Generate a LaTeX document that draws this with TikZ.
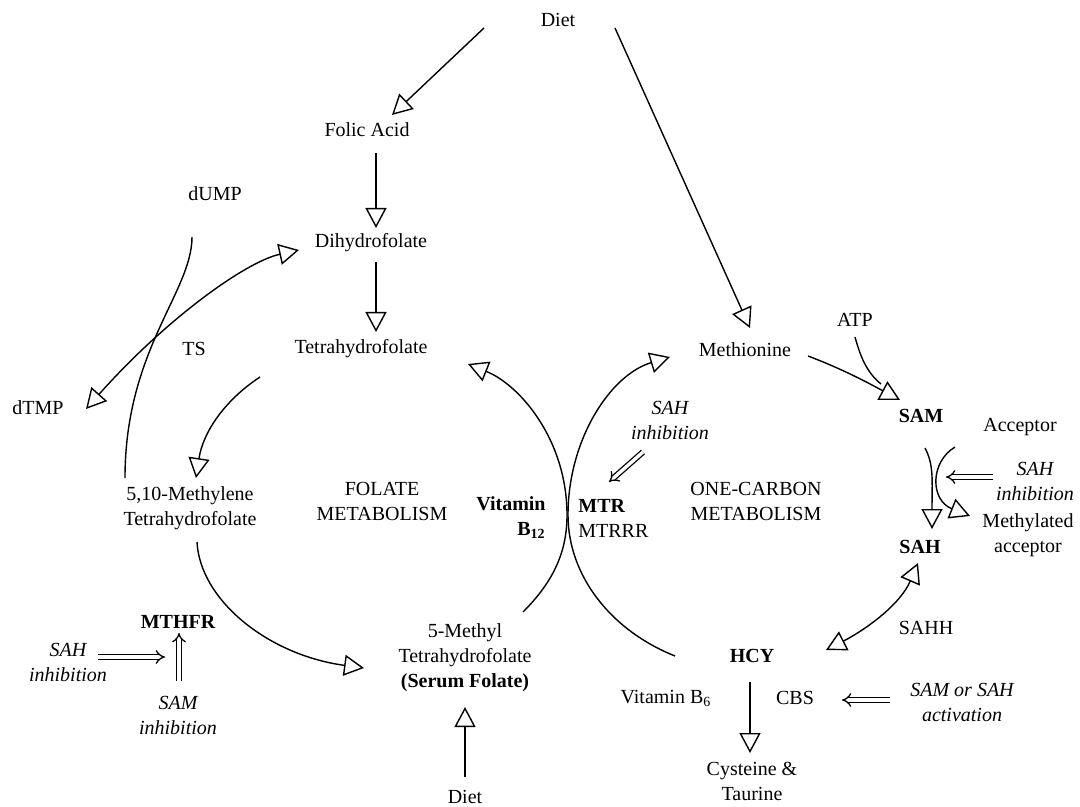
\documentclass[tikz,border=0pt]{standalone}
\usepackage{fontspec}
\setmainfont{Liberation Serif}
\usetikzlibrary{arrows.meta}
\begin{document}
\begin{tikzpicture}[x=0.5pt,y=-0.5pt,
  lbl/.style={font=\fontsize{10}{12.5}\selectfont, align=center, inner sep=0pt},
  bf/.style={lbl, font=\fontsize{10}{12.5}\selectfont\bfseries},
  it/.style={lbl, font=\fontsize{10}{12.5}\selectfont\itshape},
  tip/.tip={Triangle[open, length=10pt, width=10.5pt, line width=0.7pt]},
  ln/.style={line width=0.7pt},
  arr/.style={ln, -tip},
  arrb/.style={ln, tip-tip},
  dbl/.style={double, double distance=1.7pt, line width=0.65pt, -{Implies}},
]
\useasboundingbox (0,0) rectangle (1080,807);

% labels
\node[lbl] (diet1) at (558,20) {Diet};
\node[lbl] (folic) at (367,130) {Folic Acid};
\node[lbl] (dump) at (215,194) {dUMP};
\node[lbl] (dhf) at (371,243) {Dihydrofolate};
\node[lbl] (thf) at (361,349) {Tetrahydrofolate};
\node[lbl] (ts) at (194,349) {TS};
\node[lbl] (dtmp) at (38,408) {dTMP};
\node[lbl] (met) at (745,350) {Methionine};
\node[lbl] (atp) at (855,320) {ATP};
\node[bf] (sam) at (921,416) {SAM};
\node[lbl] (acc) at (1020,427) {Acceptor};
\node[it] (sahi1) at (670,420) {SAH\\inhibition};
\node[lbl] (mthf510) at (190,508) {5,10-Methylene\\Tetrahydrofolate};
\node[lbl] (folate) at (382,501) {FOLATE\\METABOLISM};
\node[bf, anchor=east, align=right] (b12) at (546,518) {Vitamin\\B\textsubscript{12}};
\node[lbl, anchor=west, align=left] (mtr) at (578,518) {\textbf{MTR}\\MTRRR};
\node[lbl] (onec) at (756,501) {ONE-CARBON\\METABOLISM};
\node[it] (sahi2) at (1035,481) {SAH\\inhibition};
\node[lbl] (macc) at (1028,535) {Methylated\\acceptor};
\node[bf] (sah) at (920,547) {SAH};
\node[lbl] (sahh) at (926,628) {SAHH};
\node[bf] (hcy) at (752,656) {HCY};
\node[lbl] (vb6) at (666,698) {Vitamin B\textsubscript{6}};
\node[lbl] (cbs) at (795,698) {CBS};
\node[it] (act) at (962,702) {SAM or SAH\\activation};
\node[lbl] (cys) at (752,781) {Cysteine \&\\Taurine};
\node[lbl] (mthf5) at (465,658) {5-Methyl\\Tetrahydrofolate\\\textbf{(Serum Folate)}};
\node[lbl] (diet2) at (465,797) {Diet};
\node[bf] (mthfr) at (178,622) {MTHFR};
\node[it] (sahi3) at (68,662) {SAH\\inhibition};
\node[it] (sami) at (178,715) {SAM\\inhibition};

% connector end points
\coordinate (d1a) at (484,28);  \coordinate (d1b) at (392,115);
\coordinate (d1c) at (615,28);  \coordinate (d1d) at (750,328);
\coordinate (fa1) at (376,153); \coordinate (fa2) at (376,228);
\coordinate (dh1) at (376,262); \coordinate (dh2) at (376,332);
\coordinate (du1) at (192,237); \coordinate (du2) at (125,478);
\coordinate (ts1) at (299,250); \coordinate (ts2) at (86,409);
\coordinate (th1) at (260,377); \coordinate (th2) at (196,478);
\coordinate (me1) at (197,542); \coordinate (me2) at (364,668);
\coordinate (b1)  at (523,612); \coordinate (b2)  at (468,364);
\coordinate (m1)  at (675,656); \coordinate (m2)  at (670,357);
\coordinate (s1)  at (808,356); \coordinate (s2)  at (900,400);
\coordinate (a1)  at (855,337); \coordinate (a2)  at (881,384);
\coordinate (h1)  at (925,448); \coordinate (h2)  at (932,529);
\coordinate (c1)  at (955,447); \coordinate (c2)  at (970,516);
\coordinate (k1)  at (918,563); \coordinate (k2)  at (826,650);
\coordinate (y1)  at (750,682); \coordinate (y2)  at (750,753);
\coordinate (g1)  at (465,777); \coordinate (g2)  at (465,707);
\coordinate (r1)  at (643,452); \coordinate (r2)  at (609,482);
\coordinate (r3)  at (993,477); \coordinate (r4)  at (946,477);
\coordinate (r5)  at (890,700); \coordinate (r6)  at (842,700);
\coordinate (r7)  at (98,657);  \coordinate (r8)  at (165,657);
\coordinate (r9)  at (179,681); \coordinate (r10) at (179,633);

% connectors
\draw[arr] (d1a) -- (d1b);
\draw[arr] (d1c) -- (d1d);
\draw[arr] (fa1) -- (fa2);
\draw[arr] (dh1) -- (dh2);
\draw[ln] (du1) .. controls (192,292) and (125,350) .. (du2);
\draw[arrb] (ts1) .. controls (245,262) and (165,320) .. (ts2);
\draw[arr] (th1) .. controls (225,400) and (203,432) .. (th2);
\draw[arr] (me1) .. controls (200,600) and (268,655) .. (me2);
\draw[arr] (b1) .. controls (555,580) and (567,550) .. (567,515) .. controls (567,440) and (520,385) .. (b2);
\draw[arr] (m1) .. controls (610,630) and (568,575) .. (568,515) .. controls (568,440) and (610,375) .. (m2);
\draw[arr] (s1) .. controls (845,370) and (872,385) .. (s2);
\draw[ln] (a1) .. controls (860,355) and (866,372) .. (a2);
\draw[arr] (h1) .. controls (934,465) and (932,480) .. (h2);
\draw[arr] (c1) .. controls (930,462) and (930,500) .. (c2);
\draw[arrb] (k1) .. controls (900,605) and (865,630) .. (k2);
\draw[arr] (y1) -- (y2);
\draw[arr] (g1) -- (g2);

% regulation arrows
\draw[dbl] (r1) -- (r2);
\draw[dbl] (r3) -- (r4);
\draw[dbl] (r5) -- (r6);
\draw[dbl] (r7) -- (r8);
\draw[dbl] (r9) -- (r10);
\end{tikzpicture}
\end{document}
